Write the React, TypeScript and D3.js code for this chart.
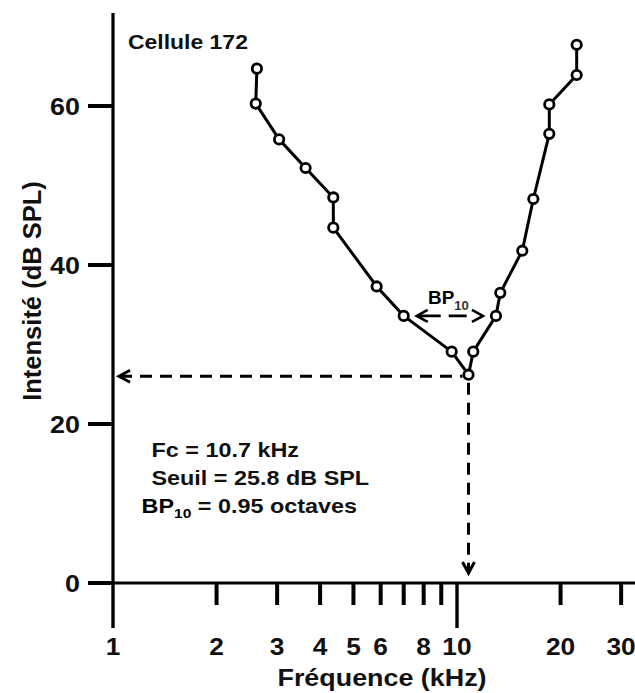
import React from "react";
import * as d3 from "d3";

const freqs = [2.62, 2.6, 3.04, 3.63, 4.37, 4.37, 5.84, 7.0, 9.65, 10.8, 11.15, 12.98, 13.36, 15.48, 16.67, 18.55, 18.55, 22.28, 22.28];
const intensities = [64.7, 60.3, 55.8, 52.2, 48.5, 44.7, 37.3, 33.6, 29.1, 26.2, 29.1, 33.6, 36.5, 41.8, 48.3, 56.5, 60.2, 63.9, 67.7];
const xTicks = [1, 2, 3, 4, 5, 6, 7, 8, 9, 10, 20, 30];
const xMajor = [1, 10];
const xLabels = [1, 2, 3, 4, 5, 6, 8, 10, 20, 30];
const yTicks = [0, 20, 40, 60];
const minIndex = 9;
const bwLeftIndex = 7;
const bwRightIndex = 11;
const cellTitle = "Cellule 172";
const fcText = "Fc = 10.7 kHz";
const seuilText = "Seuil = 25.8 dB SPL";
const bpValueText = " = 0.95 octaves";

const W = 635;
const H = 693;
const FONT = "'Liberation Sans', Arial, Helvetica, sans-serif";

export default function App() {
  const x = d3.scaleLog().domain([1, 10]).range([113, 457]);
  const y = d3.scaleLinear().domain([0, 60]).range([583, 106]);
  const x0 = x(1);
  const y0 = y(0);
  const yTop = 13;

  const pts = freqs.map((f, i) => [x(f), y(intensities[i])] as [number, number]);
  const line = d3.line<[number, number]>().x((d) => d[0]).y((d) => d[1]);

  const mx = pts[minIndex][0];
  const my = pts[minIndex][1];

  const chevron = (tx: number, ty: number, dx: number, dy: number) => {
    const L = 11, Wd = 6;
    const bx = tx - dx * L, by = ty - dy * L;
    const px = -dy * Wd, py = dx * Wd;
    return `M${bx + px},${by + py}L${tx},${ty}L${bx - px},${by - py}`;
  };

  const bwY = pts[bwLeftIndex][1];
  const bwL = pts[bwLeftIndex][0] + 13;
  const bwR = pts[bwRightIndex][0] - 13;

  const SX = 1.12;

  return (
    <svg width={W} height={H} style={{ position: "absolute", left: 0, top: 0, background: "#fff" }} fontFamily={FONT} fontWeight="bold">
      <rect width={W} height={H} fill="#fff" />
      {/* Y axis */}
      <line x1={x0} x2={x0} y1={yTop} y2={y0} stroke="#000" strokeWidth={3.2} />
      {yTicks.map((t) => (
        <g key={"yt" + t}>
          <line x1={x0 - 25} x2={x0} y1={y(t)} y2={y(t)} stroke="#000" strokeWidth={4} />
          <text transform={`translate(${x0 - 33},${y(t) + 8.5}) scale(${SX},1)`} textAnchor="end" fontSize={24} fill="#111">
            {t}
          </text>
        </g>
      ))}
      {/* X axis */}
      <line x1={x0 - 25} x2={W} y1={y0} y2={y0} stroke="#000" strokeWidth={2.8} />
      {xTicks.map((t) => (
        <line key={"xt" + t} x1={x(t)} x2={x(t)} y1={y0} y2={xMajor.includes(t) ? 628 : 605} stroke="#000" strokeWidth={xMajor.includes(t) ? 3.4 : 4} />
      ))}
      {xLabels.map((t) => (
        <text key={"xl" + t} transform={`translate(${x(t)},655) scale(${SX},1)`} textAnchor="middle" fontSize={23.5} fill="#111">
          {t}
        </text>
      ))}
      <text transform={`translate(382,686) scale(${SX},1)`} textAnchor="middle" fontSize={24} fill="#111">
        Fréquence (kHz)
      </text>
      <text transform={`translate(41,291) rotate(-90)`} textAnchor="middle" fontSize={25.5} fill="#111">
        Intensité (dB SPL)
      </text>

      {/* Title */}
      <text transform={`translate(128,49) scale(1.12,1)`} fontSize={20.5} fill="#111">
        {cellTitle}
      </text>

      {/* dashed threshold lines */}
      <line x1={x0 + 7} x2={mx - 6} y1={my + 1.5} y2={my + 1.5} stroke="#000" strokeWidth={3} strokeDasharray="12 8" />
      <path d={chevron(x0 + 6, my + 1.5, -1, 0)} fill="none" stroke="#000" strokeWidth={3} />
      <line x1={mx} x2={mx} y1={my + 8} y2={y0 - 11} stroke="#000" strokeWidth={3} strokeDasharray="12 8" />
      <path d={chevron(mx, y0 - 10, 0, 1)} fill="none" stroke="#000" strokeWidth={3} />

      {/* BP10 arrow */}
      <line x1={bwL + 2} x2={bwR - 2} y1={bwY} y2={bwY} stroke="#000" strokeWidth={2.6} strokeDasharray="22 8 18 30" />
      <path d={chevron(bwL, bwY, -1, 0)} fill="none" stroke="#000" strokeWidth={2.6} />
      <path d={chevron(bwR, bwY, 1, 0)} fill="none" stroke="#000" strokeWidth={2.6} />
      <text transform={`translate(428,304) scale(1.05,1)`} fontSize={18} fill="#000">
        BP
        <tspan fontSize={12.5} dy={6} fill="#333">10</tspan>
      </text>

      {/* Curve */}
      <path d={line(pts) || ""} fill="none" stroke="#000" strokeWidth={3} strokeLinejoin="round" />
      {pts.map((p, i) => (
        <circle key={"p" + i} cx={p[0]} cy={p[1]} r={4.7} fill="#fff" stroke="#000" strokeWidth={2.8} />
      ))}

      {/* Annotations */}
      <text transform={`translate(151.5,457) scale(1.2,1)`} fontSize={19.5} fill="#111">
        {fcText}
      </text>
      <text transform={`translate(151.5,485) scale(1.2,1)`} fontSize={19.5} fill="#111">
        {seuilText}
      </text>
      <text transform={`translate(141.5,513) scale(1.2,1)`} fontSize={19.5} fill="#000">
        BP
        <tspan fontSize={13} dy={5}>10</tspan>
        <tspan dy={-5} fill="#111">{bpValueText}</tspan>
      </text>
    </svg>
  );
}
